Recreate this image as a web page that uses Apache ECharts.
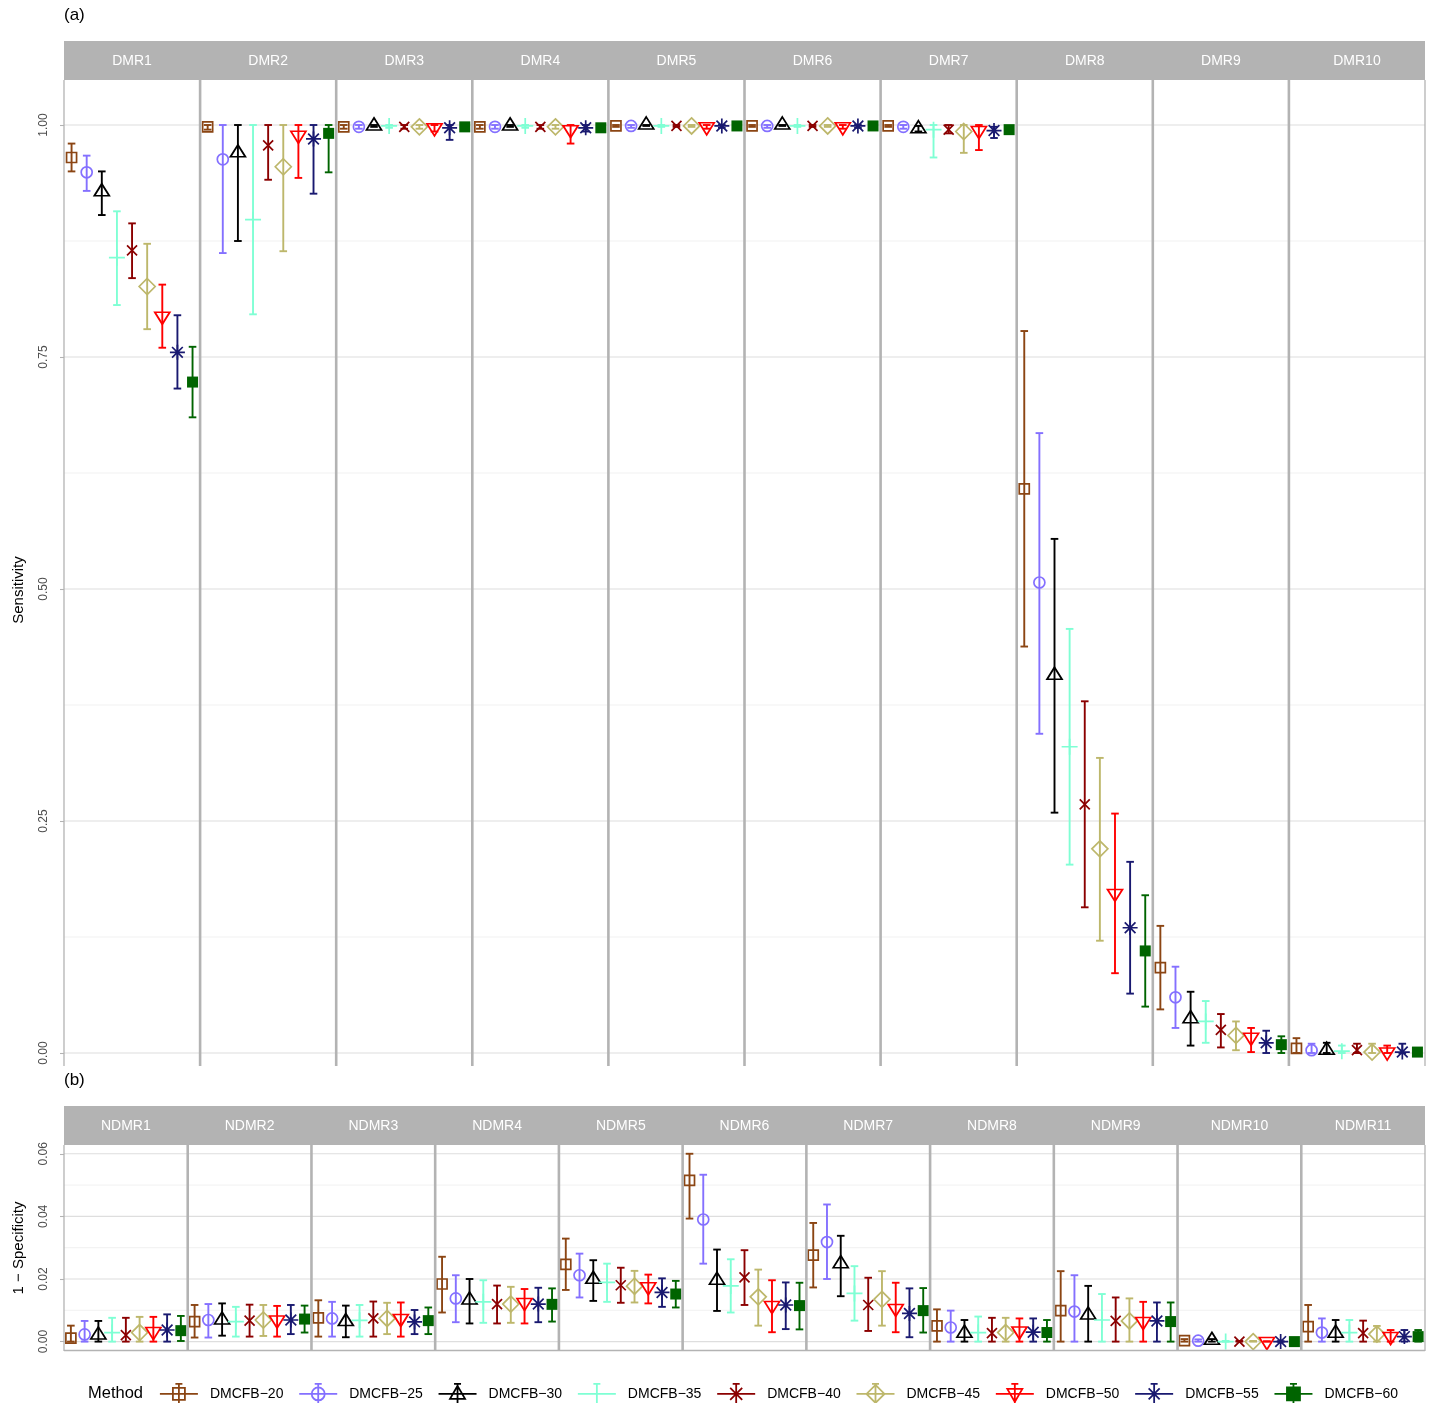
<!DOCTYPE html>
<html><head><meta charset="utf-8">
<script src="https://cdn.jsdelivr.net/npm/echarts@6/dist/echarts.min.js"></script>
<style>html,body{margin:0;padding:0;background:#fff}#c{width:1431px;height:1403px}</style>
</head><body><div id="c"></div>
<script>
// ---------------- data ----------------
const METHODS = ['DMCFB−20','DMCFB−25','DMCFB−30','DMCFB−35','DMCFB−40','DMCFB−45','DMCFB−50','DMCFB−55','DMCFB−60'];
const COLORS  = ['#8B4513','#8470FF','#000000','#7FFFD4','#8B0000','#BDB76B','#FF0000','#191970','#006400'];
const DMR_FACETS  = ['DMR1','DMR2','DMR3','DMR4','DMR5','DMR6','DMR7','DMR8','DMR9','DMR10'];
const NDMR_FACETS = ['NDMR1','NDMR2','NDMR3','NDMR4','NDMR5','NDMR6','NDMR7','NDMR8','NDMR9','NDMR10','NDMR11'];
const SENS_TICKS = [0, 0.25, 0.5, 0.75, 1];
const SENS_TICK_LABELS = ['0.00','0.25','0.50','0.75','1.00'];
const SENS_MINOR = [0.125, 0.375, 0.625, 0.875];
const SPEC_TICKS = [0, 0.02, 0.04, 0.06];
const SPEC_TICK_LABELS = ['0.00','0.02','0.04','0.06'];
const SPEC_MINOR = [0.01, 0.03, 0.05];

// Sensitivity (panel a): estimate, lower, upper per method
const DMR1_est = [0.965,0.949,0.928,0.857,0.865,0.826,0.794,0.755,0.723];
const DMR1_lo  = [0.950,0.929,0.903,0.806,0.835,0.780,0.760,0.716,0.685];
const DMR1_hi  = [0.980,0.967,0.950,0.907,0.894,0.872,0.828,0.795,0.761];
const DMR2_est = [0.998,0.963,0.970,0.898,0.978,0.955,0.989,0.985,0.991];
const DMR2_lo  = [0.995,0.862,0.875,0.796,0.941,0.864,0.943,0.926,0.949];
const DMR2_hi  = [1.000,1.000,1.000,1.000,1.000,1.000,1.000,1.000,1.000];
const DMR3_est = [0.998,0.998,0.999,0.999,0.998,0.998,0.997,0.997,0.998];
const DMR3_lo  = [0.996,0.996,0.998,0.997,0.996,0.996,0.993,0.984,0.996];
const DMR3_hi  = [1.000,1.000,1.000,1.000,1.000,1.000,1.000,1.000,1.000];
const DMR4_est = [0.998,0.998,0.999,0.999,0.998,0.998,0.995,0.997,0.997];
const DMR4_lo  = [0.996,0.996,0.998,0.997,0.996,0.996,0.980,0.993,0.994];
const DMR4_hi  = [1.000,1.000,1.000,1.000,1.000,1.000,1.000,1.000,1.000];
const DMR5_est = [0.999,0.999,1.000,0.999,0.999,0.999,0.998,0.999,0.999];
const DMR5_lo  = [0.998,0.997,0.999,0.998,0.998,0.998,0.996,0.997,0.998];
const DMR5_hi  = [1.000,1.000,1.000,1.000,1.000,1.000,1.000,1.000,1.000];
const DMR6_est = [0.999,0.999,1.000,0.999,0.999,0.999,0.998,0.999,0.999];
const DMR6_lo  = [0.998,0.997,0.999,0.998,0.998,0.998,0.996,0.997,0.998];
const DMR6_hi  = [1.000,1.000,1.000,1.000,1.000,1.000,1.000,1.000,1.000];
const DMR7_est = [0.999,0.998,0.996,0.995,0.995,0.993,0.994,0.994,0.995];
const DMR7_lo  = [0.998,0.996,0.993,0.965,0.991,0.970,0.973,0.986,0.993];
const DMR7_hi  = [1.000,1.000,0.999,1.000,1.000,1.000,1.000,0.998,0.997];
const DMR8_est = [0.608,0.507,0.407,0.330,0.268,0.220,0.172,0.135,0.110];
const DMR8_lo  = [0.438,0.344,0.259,0.203,0.157,0.121,0.086,0.064,0.050];
const DMR8_hi  = [0.778,0.668,0.554,0.457,0.379,0.318,0.258,0.206,0.170];
const DMR9_est = [0.092,0.060,0.037,0.034,0.025,0.019,0.017,0.011,0.009];
const DMR9_lo  = [0.047,0.027,0.008,0.011,0.006,0.003,0.001,0.000,0.000];
const DMR9_hi  = [0.137,0.093,0.066,0.056,0.042,0.034,0.027,0.024,0.018];
const DMR10_est = [0.005,0.003,0.003,0.002,0.003,0.001,0.001,0.001,0.001];
const DMR10_lo  = [0.000,0.000,0.000,0.000,0.000,0.000,0.000,0.000,0.000];
const DMR10_hi  = [0.016,0.010,0.011,0.008,0.010,0.010,0.008,0.010,0.003];

// 1 - Specificity (panel b)
const NDMR1_est = [0.0011,0.0023,0.0021,0.0029,0.0021,0.0029,0.0032,0.0037,0.0035];
const NDMR1_lo  = [0,0,0,0,0,0,0,0,0.0002];
const NDMR1_hi  = [0.0051,0.0066,0.0066,0.0076,0.0076,0.0079,0.0079,0.0087,0.0082];
const NDMR2_est = [0.0064,0.0069,0.0069,0.0064,0.0067,0.0069,0.0069,0.0069,0.0072];
const NDMR2_lo  = [0.0013,0.0013,0.0019,0.0016,0.0016,0.0018,0.0016,0.0024,0.0029];
const NDMR2_hi  = [0.0117,0.0120,0.0122,0.0111,0.0118,0.0117,0.0114,0.0117,0.0115];
const NDMR3_est = [0.0076,0.0074,0.0064,0.0068,0.0074,0.0074,0.0074,0.0063,0.0067];
const NDMR3_lo  = [0.0016,0.0016,0.0014,0.0016,0.0016,0.0024,0.0016,0.0024,0.0024];
const NDMR3_hi  = [0.0132,0.0127,0.0115,0.0117,0.0128,0.0124,0.0125,0.0101,0.0109];
const NDMR4_est = [0.0184,0.0138,0.0133,0.0127,0.0120,0.0120,0.0125,0.0120,0.0119];
const NDMR4_lo  = [0.0093,0.0062,0.0058,0.0060,0.0058,0.0060,0.0058,0.0062,0.0064];
const NDMR4_hi  = [0.0271,0.0212,0.0200,0.0196,0.0179,0.0175,0.0168,0.0172,0.0170];
const NDMR5_est = [0.0247,0.0212,0.0199,0.0189,0.0180,0.0177,0.0175,0.0157,0.0152];
const NDMR5_lo  = [0.0165,0.0141,0.0130,0.0127,0.0124,0.0125,0.0122,0.0111,0.0109];
const NDMR5_hi  = [0.0329,0.0281,0.0260,0.0249,0.0236,0.0226,0.0214,0.0202,0.0194];
const NDMR6_est = [0.0515,0.0390,0.0196,0.0178,0.0205,0.0143,0.0115,0.0117,0.0115];
const NDMR6_lo  = [0.0393,0.0249,0.0098,0.0093,0.0117,0.0051,0.0030,0.0040,0.0039];
const NDMR6_hi  = [0.0600,0.0533,0.0294,0.0263,0.0292,0.0230,0.0196,0.0189,0.0188];
const NDMR7_est = [0.0276,0.0318,0.0249,0.0154,0.0117,0.0135,0.0106,0.0090,0.0099];
const NDMR7_lo  = [0.0173,0.0200,0.0145,0.0067,0.0034,0.0051,0.0030,0.0014,0.0029];
const NDMR7_hi  = [0.0379,0.0438,0.0338,0.0241,0.0204,0.0225,0.0188,0.0170,0.0171];
const NDMR8_est = [0.0050,0.0045,0.0027,0.0029,0.0027,0.0029,0.0034,0.0030,0.0029];
const NDMR8_lo  = [0,0,0,0,0,0,0,0,0];
const NDMR8_hi  = [0.0103,0.0099,0.0069,0.0080,0.0076,0.0076,0.0074,0.0074,0.0069];
const NDMR9_est = [0.0099,0.0096,0.0085,0.0069,0.0066,0.0066,0.0064,0.0066,0.0064];
const NDMR9_lo  = [0,0,0,0,0,0,0,0,0];
const NDMR9_hi  = [0.0225,0.0212,0.0178,0.0152,0.0141,0.0138,0.0127,0.0125,0.0125];
const NDMR10_est = [0.0003,0.0003,0.0004,0.0000,0.0000,0.0000,0.0000,0.0000,0.0000];
const NDMR10_lo  = [0,0,0,0,0,0,0,0,0];
const NDMR10_hi  = [0.0008,0.0007,0.0008,0.0002,0.0002,0.0002,0.0001,0.0001,0.0001];
const NDMR11_est = [0.0048,0.0029,0.0027,0.0029,0.0027,0.0024,0.0016,0.0016,0.0016];
const NDMR11_lo  = [0,0,0,0,0,0,0,0,0];
const NDMR11_hi  = [0.0117,0.0074,0.0069,0.0069,0.0067,0.0050,0.0037,0.0037,0.0037];

const SENS = [
  [DMR1_est,DMR1_lo,DMR1_hi],[DMR2_est,DMR2_lo,DMR2_hi],[DMR3_est,DMR3_lo,DMR3_hi],
  [DMR4_est,DMR4_lo,DMR4_hi],[DMR5_est,DMR5_lo,DMR5_hi],[DMR6_est,DMR6_lo,DMR6_hi],
  [DMR7_est,DMR7_lo,DMR7_hi],[DMR8_est,DMR8_lo,DMR8_hi],[DMR9_est,DMR9_lo,DMR9_hi],
  [DMR10_est,DMR10_lo,DMR10_hi]];
const SPEC = [
  [NDMR1_est,NDMR1_lo,NDMR1_hi],[NDMR2_est,NDMR2_lo,NDMR2_hi],[NDMR3_est,NDMR3_lo,NDMR3_hi],
  [NDMR4_est,NDMR4_lo,NDMR4_hi],[NDMR5_est,NDMR5_lo,NDMR5_hi],[NDMR6_est,NDMR6_lo,NDMR6_hi],
  [NDMR7_est,NDMR7_lo,NDMR7_hi],[NDMR8_est,NDMR8_lo,NDMR8_hi],[NDMR9_est,NDMR9_lo,NDMR9_hi],
  [NDMR10_est,NDMR10_lo,NDMR10_hi],[NDMR11_est,NDMR11_lo,NDMR11_hi]];

// ---------------- styling ----------------
const FONT = "'Liberation Sans', Arial, Helvetica, sans-serif";
const STRIP = '#B3B3B3';
const SYMBOLS = [
  {symbol:'rect', size:10, fill:false},
  {symbol:'circle', size:11, fill:false},
  {symbol:'triangle', size:[15,12], fill:false, offset:[0,-2]},
  {symbol:'path://M8,0L8,16M0,8L16,8', size:16, fill:false},
  {symbol:'path://M0,0L10,10M10,0L0,10', size:10, fill:false},
  {symbol:'diamond', size:16, fill:false},
  {symbol:'path://M0,0L14,0L7,12Z', size:[15,12], fill:false, offset:[0,2]},
  {symbol:'path://M7,0L7,14M0,7L14,7M2,2L12,12M12,2L2,12', size:15, fill:false},
  {symbol:'rect', size:11, fill:true}
];
// legend key: horizontal line, vertical error bar, symbol (box 38 x 20, centre 19,10)
const BASE_LINES = 'M0,10L38,10M19,0L19,20M15.5,0L22.5,0M15.5,20L22.5,20';
const LEGEND_SHAPES = [
  'M13,4L25,4L25,16L13,16Z',
  'M12.5,10A6.5,6.5,0,1,1,25.5,10A6.5,6.5,0,1,1,12.5,10Z',
  'M19,2L26.5,15L11.5,15Z',
  'M10,10L28,10M19,1L19,19',
  'M13,4L25,16M25,4L13,16',
  'M19,1L28,10L19,19L10,10Z',
  'M11.5,5L26.5,5L19,18Z',
  'M11,10L27,10M19,2L19,18M13.5,4.5L24.5,15.5M24.5,4.5L13.5,15.5',
  'M12.5,3.5L25.5,3.5L25.5,16.5L12.5,16.5Z'
];

// ---------------- layout ----------------
const X0 = 64, X1 = 1425;
const PANEL_A = {top: 80, height: 986, stripTop: 41, min: -0.014, max: 1.0485};
const PANEL_B = {top: 1145, height: 206, stripTop: 1106, min: -0.003, max: 0.0628};

const grids = [], xAxes = [], yAxes = [], series = [], graphics = [];

function errRender(color) {
  return function (params, api) {
    const x = api.value(0);
    const pl = api.coord([x, api.value(1)]);
    const ph = api.coord([x, api.value(2)]);
    const w = 3.8;
    const st = {stroke: color, lineWidth: 1.9};
    return {type: 'group', children: [
      {type: 'line', shape: {x1: pl[0], y1: pl[1], x2: ph[0], y2: ph[1]}, style: st},
      {type: 'line', shape: {x1: pl[0]-w, y1: pl[1], x2: pl[0]+w, y2: pl[1]}, style: st},
      {type: 'line', shape: {x1: ph[0]-w, y1: ph[1], x2: ph[0]+w, y2: ph[1]}, style: st}
    ]};
  };
}
function gridRender(params, api) {
  const cs = params.coordSys;
  const y = api.coord([0, api.value(1)])[1];
  const major = api.value(2) === 1;
  return {type: 'line', shape: {x1: cs.x, y1: y, x2: cs.x + cs.width, y2: y},
    style: {stroke: major ? '#DEDEDE' : '#EBEBEB', lineWidth: major ? 1.1 : 0.7}};
}

function buildPanel(facets, data, P, ticks, tickLabels, minor) {
  const n = facets.length;
  const fw = (X1 - X0) / n;
  const gridLineData = ticks.map(v => [0, v, 1]).concat(minor.map(v => [0, v, 0]));
  graphics.push({type: 'rect', z: 5, shape: {x: X0, y: P.stripTop, width: X1 - X0, height: P.top - P.stripTop},
    style: {fill: STRIP}});
  for (let f = 0; f < n; f++) {
    const gi = grids.length;
    const left = X0 + f * fw;
    grids.push({left: left, top: P.top, width: fw, height: P.height, containLabel: false});
    xAxes.push({type: 'category', gridIndex: gi, data: METHODS, boundaryGap: true, show: false});
    const first = f === 0;
    yAxes.push({type: 'value', gridIndex: gi, min: P.min, max: P.max, show: first,
      axisLine: {show: false},
      axisTick: {show: first, length: 4, customValues: ticks, lineStyle: {color: STRIP, width: 1.1}},
      axisLabel: {show: first, customValues: ticks, rotate: 90, margin: 14, fontSize: 12, color: '#4D4D4D', fontFamily: FONT,
        formatter: v => tickLabels[ticks.indexOf(+v.toFixed(4))] ?? ''},
      splitLine: {show: false}});
    series.push({type: 'custom', xAxisIndex: gi, yAxisIndex: gi, silent: true, z: 1,
      renderItem: gridRender, data: gridLineData});
    const [est, lo, hi] = data[f];
    METHODS.forEach((m, k) => {
      series.push({type: 'custom', name: m, xAxisIndex: gi, yAxisIndex: gi, silent: true, z: 3,
        renderItem: errRender(COLORS[k]), data: [[k, lo[k], hi[k]]]});
    });
    METHODS.forEach((m, k) => {
      const s = SYMBOLS[k];
      series.push({type: 'scatter', name: m, xAxisIndex: gi, yAxisIndex: gi, silent: true, z: 4,
        symbol: s.symbol, symbolSize: s.size, symbolOffset: s.offset || [0, 0],
        itemStyle: {color: s.fill ? COLORS[k] : 'rgba(0,0,0,0)', borderColor: COLORS[k], borderWidth: s.fill ? 0 : 1.7, opacity: 1},
        emphasis: {disabled: true},
        data: [[k, est[k]]]});
    });
    graphics.push({type: 'text', z: 6, x: left + fw / 2, y: P.stripTop + (P.top - P.stripTop) / 2 + 0.5,
      style: {text: facets[f], fill: '#FFFFFF', font: '14px ' + FONT, align: 'center', verticalAlign: 'middle'}});
  }
  const bottom = P.top + P.height;
  for (let f = 0; f <= n; f++) {
    const x = X0 + f * fw;
    const outer = (f === 0 || f === n);
    graphics.push({type: 'line', z: 7, shape: {x1: x, y1: P.top, x2: x, y2: bottom},
      style: {stroke: STRIP, lineWidth: outer ? 1.3 : 2.6}});
  }
}

buildPanel(DMR_FACETS, SENS, PANEL_A, SENS_TICKS, SENS_TICK_LABELS, SENS_MINOR);
buildPanel(NDMR_FACETS, SPEC, PANEL_B, SPEC_TICKS, SPEC_TICK_LABELS, SPEC_MINOR);
graphics.push({type: 'line', z: 7, shape: {x1: X0, y1: PANEL_B.top + PANEL_B.height - 0.5, x2: X1, y2: PANEL_B.top + PANEL_B.height - 0.5},
  style: {stroke: STRIP, lineWidth: 1.3}});

graphics.push({type: 'text', x: 64, y: 15, style: {text: '(a)', font: '17px ' + FONT, fill: '#000', align: 'left', verticalAlign: 'middle'}});
graphics.push({type: 'text', x: 64, y: 1080, style: {text: '(b)', font: '17px ' + FONT, fill: '#000', align: 'left', verticalAlign: 'middle'}});
graphics.push({type: 'text', x: 19, y: 590, rotation: Math.PI / 2,
  style: {text: 'Sensitivity', font: '15px ' + FONT, fill: '#000', align: 'center', verticalAlign: 'middle'}});
graphics.push({type: 'text', x: 19, y: 1248, rotation: Math.PI / 2,
  style: {text: '1 − Specificity', font: '15px ' + FONT, fill: '#000', align: 'center', verticalAlign: 'middle'}});
graphics.push({type: 'text', x: 88, y: 1393, style: {text: 'Method', font: '16.5px ' + FONT, fill: '#000', align: 'left', verticalAlign: 'middle'}});

const option = {
  animation: false,
  backgroundColor: '#FFFFFF',
  grid: grids, xAxis: xAxes, yAxis: yAxes, series: series,
  graphic: graphics,
  legend: {
    left: 159, top: 1383, padding: 0, orient: 'horizontal', itemWidth: 38, itemHeight: 20, itemGap: 14.9,
    selectedMode: false, symbolKeepAspect: false,
    textStyle: {fontSize: 14, color: '#000', fontFamily: FONT, padding: [0, 0, 0, 7]},
    data: METHODS.map((m, k) => ({
      name: m,
      icon: 'path://' + BASE_LINES + LEGEND_SHAPES[k],
      itemStyle: {color: k === 8 ? COLORS[k] : 'rgba(0,0,0,0)', borderColor: COLORS[k], borderWidth: 1.8}
    }))
  }
};
const chart = echarts.init(document.getElementById('c'), null, {renderer: 'canvas'});
chart.setOption(option);
</script></body></html>
